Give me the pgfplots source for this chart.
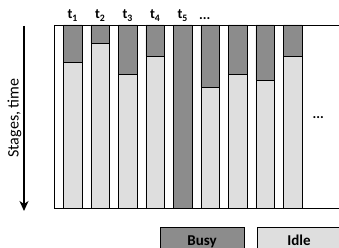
\documentclass[border=0pt]{standalone}
\usepackage{fontspec}
\setmainfont{Carlito}
\usepackage{pgfplots}
\pgfplotsset{compat=1.18}
\usetikzlibrary{arrows.meta}
\definecolor{busy}{RGB}{140,140,140}
\definecolor{idle}{RGB}{222,222,222}
\begin{document}
\begin{tikzpicture}
\useasboundingbox (0,0) rectangle (339pt,248pt);
\clip (0,0) rectangle (339pt,248pt);
\begin{axis}[
  at={(54.3pt,40pt)}, anchor=south west,
  scale only axis, width=290pt, height=183pt,
  xmin=0.33, xmax=10.875,
  ymin=0, ymax=183, y dir=reverse,
  axis x line=box, axis y line=left,
  axis line style={-, line width=0.8pt},
  xtick=\empty, ytick=\empty,
  ybar stacked, bar width=18.5pt,
  clip=false,
]
\addplot[fill=busy, draw=black, line width=0.6pt] coordinates {(1,37) (2,18) (3,49) (4,31) (5,183) (6,62) (7,49) (8,55) (9,31)};
\addplot[fill=idle, draw=black, line width=0.6pt] coordinates {(1,146) (2,165) (3,134) (4,152) (5,0) (6,121) (7,134) (8,128) (9,152)};
\pgfplotsinvokeforeach{1,...,5}{
  \node[anchor=base, yshift=6pt] at (axis cs:#1,0) {\fontsize{14}{16}\selectfont\bfseries t\textsubscript{#1}};
}
\node[anchor=base, yshift=5pt] at (axis cs:5.8,0) {\fontsize{14}{16}\selectfont\bfseries ...};
\node at (axis cs:9.93,93) {\fontsize{14}{16}\selectfont\bfseries ...};
\end{axis}
\draw[line width=1.3pt, -{Stealth[length=10pt,width=9pt,inset=3pt]}] (24pt,222pt) -- (24pt,37pt);
\node[rotate=90, inner sep=0pt] at (14.5pt,130pt) {\fontsize{16}{18}\selectfont Stages, time};
\draw[fill=busy, line width=0.8pt] (160pt,-10pt) rectangle (244.3pt,20.7pt);
\node[anchor=base] at (202pt,2.3pt) {\fontsize{15}{18}\selectfont\bfseries Busy};
\draw[fill=idle, line width=0.8pt] (257.3pt,-10pt) rectangle (345pt,20.7pt);
\node[anchor=base] at (299pt,2.3pt) {\fontsize{15}{18}\selectfont\bfseries Idle};
\end{tikzpicture}
\end{document}
